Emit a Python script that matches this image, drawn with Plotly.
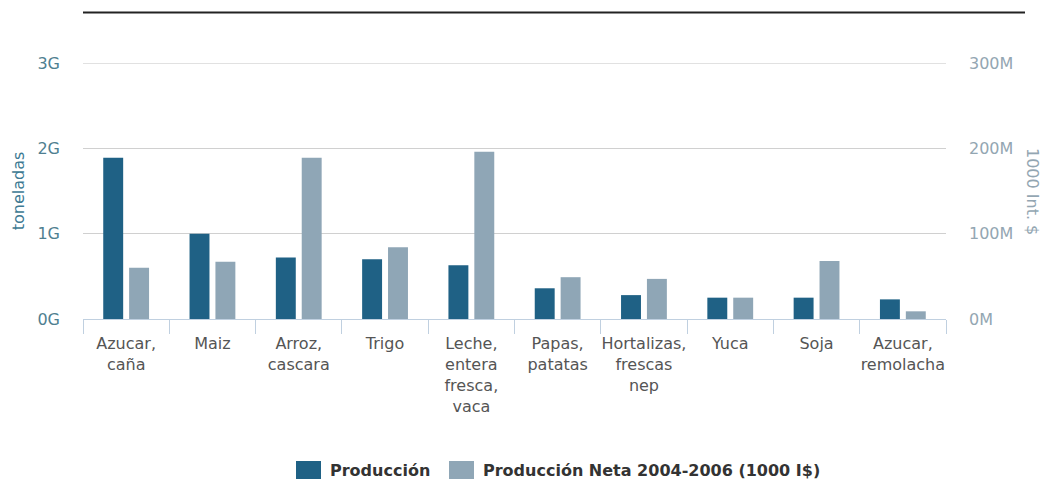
import plotly.graph_objects as go

# Crops and series (production in tonnes, net production value in 1000 Int. $)
categories = [
    "Azucar,<br>caña", "Maiz", "Arroz,<br>cascara", "Trigo",
    "Leche,<br>entera<br>fresca,<br>vaca", "Papas,<br>patatas",
    "Hortalizas,<br>frescas<br>nep", "Yuca", "Soja", "Azucar,<br>remolacha",
]
produccion = [1.89e9, 1.00e9, 0.72e9, 0.70e9, 0.63e9, 0.36e9, 0.28e9, 0.25e9, 0.25e9, 0.23e9]
produccion_neta = [60e6, 67e6, 189e6, 84e6, 196e6, 49e6, 47e6, 25e6, 68e6, 9e6]

series_names = ["Producción", "Producción Neta 2004-2006 (1000 I$)"]
series_colors = ["#1f6185", "#8fa6b6"]

left_ticks = [0, 1e9, 2e9, 3e9]
left_labels = ["0G", "1G", "2G", "3G"]
right_ticks = [0, 100e6, 200e6, 300e6]
right_labels = ["0M", "100M", "200M", "300M"]

FONT = "DejaVu Sans"
W, H = 1041, 481
ML, MR, MT, MB = 83, 95, 63, 162
PW, PH = W - ML - MR, H - MT - MB


def px_x(px):
    return (px - ML) / PW


def px_y(py):
    return (H - MB - py) / PH


fig = go.Figure()
fig.add_trace(go.Bar(
    x=categories, y=produccion, name=series_names[0],
    marker=dict(color=series_colors[0], line=dict(width=0)),
    offsetgroup="a", yaxis="y", showlegend=False,
))
fig.add_trace(go.Bar(
    x=categories, y=produccion_neta, name=series_names[1],
    marker=dict(color=series_colors[1], line=dict(width=0)),
    offsetgroup="b", yaxis="y2", showlegend=False,
))

fig.update_layout(
    width=W, height=H,
    margin=dict(l=ML, r=MR, t=MT, b=MB, pad=0),
    paper_bgcolor="white", plot_bgcolor="white",
    font=dict(family=FONT, size=16, color="#555555"),
    barmode="group", bargap=0.40, bargroupgap=0.23,
    xaxis=dict(
        type="category", tickson="boundaries", ticks="outside",
        ticklen=14, tickcolor="#c0d0e0", tickwidth=1,
        showline=True, linecolor="#c0d0e0", linewidth=1,
        showgrid=False, zeroline=False, tickangle=0,
        tickfont=dict(family=FONT, size=16, color="#555555"),
        ticklabelstandoff=10,
    ),
    yaxis=dict(
        range=[0, 3e9], tickvals=left_ticks, ticktext=left_labels,
        showgrid=True, gridcolor="#d0d0d0", gridwidth=1,
        zeroline=False, showline=False, ticks="",
        tickfont=dict(family=FONT, size=16, color="#4f7f91"),
        ticklabelstandoff=22,
        title=dict(text="toneladas", font=dict(family=FONT, size=16, color="#3d7a93"),
                   standoff=8),
    ),
    yaxis2=dict(
        range=[0, 300e6], tickvals=right_ticks, ticktext=right_labels,
        overlaying="y", side="right",
        showgrid=False, zeroline=False, showline=False, ticks="",
        tickfont=dict(family=FONT, size=16, color="#93a6b2"),
        ticklabelstandoff=22,
    ),
)

# Gridline at the top of the value range (sits on the plot edge)
fig.add_shape(
    type="line", xref="paper", yref="y",
    x0=0, x1=1, y0=left_ticks[-1], y1=left_ticks[-1],
    line=dict(color="#c4c4c4", width=1), layer="below",
)

# Right axis title reads top-to-bottom
fig.add_annotation(
    xref="paper", yref="paper", x=px_x(1033), y=px_y(191),
    text="1000 Int. $", textangle=90, showarrow=False,
    font=dict(family=FONT, size=16, color="#93a6b2"),
    xanchor="center", yanchor="middle",
)

# Rule across the top of the chart
fig.add_shape(
    type="line", xref="paper", yref="paper",
    x0=px_x(83), x1=px_x(1025), y0=px_y(12.5), y1=px_y(12.5),
    line=dict(color="#222222", width=2),
)

# Legend: coloured swatches followed by bold series names
legend_items = [(296, 321, 328), (449, 474, 481)]
for (sx0, sx1, tx), name, color in zip(legend_items, series_names, series_colors):
    fig.add_shape(
        type="rect", xref="paper", yref="paper",
        x0=px_x(sx0), x1=px_x(sx1), y0=px_y(479), y1=px_y(461),
        fillcolor=color, line=dict(width=0),
    )
    fig.add_annotation(
        xref="paper", yref="paper", x=px_x(tx), y=px_y(470),
        text="<b>" + name + "</b>", showarrow=False,
        xanchor="left", yanchor="middle",
        font=dict(family=FONT, size=16, color="#333333"),
    )

fig.write_html("out.html")
